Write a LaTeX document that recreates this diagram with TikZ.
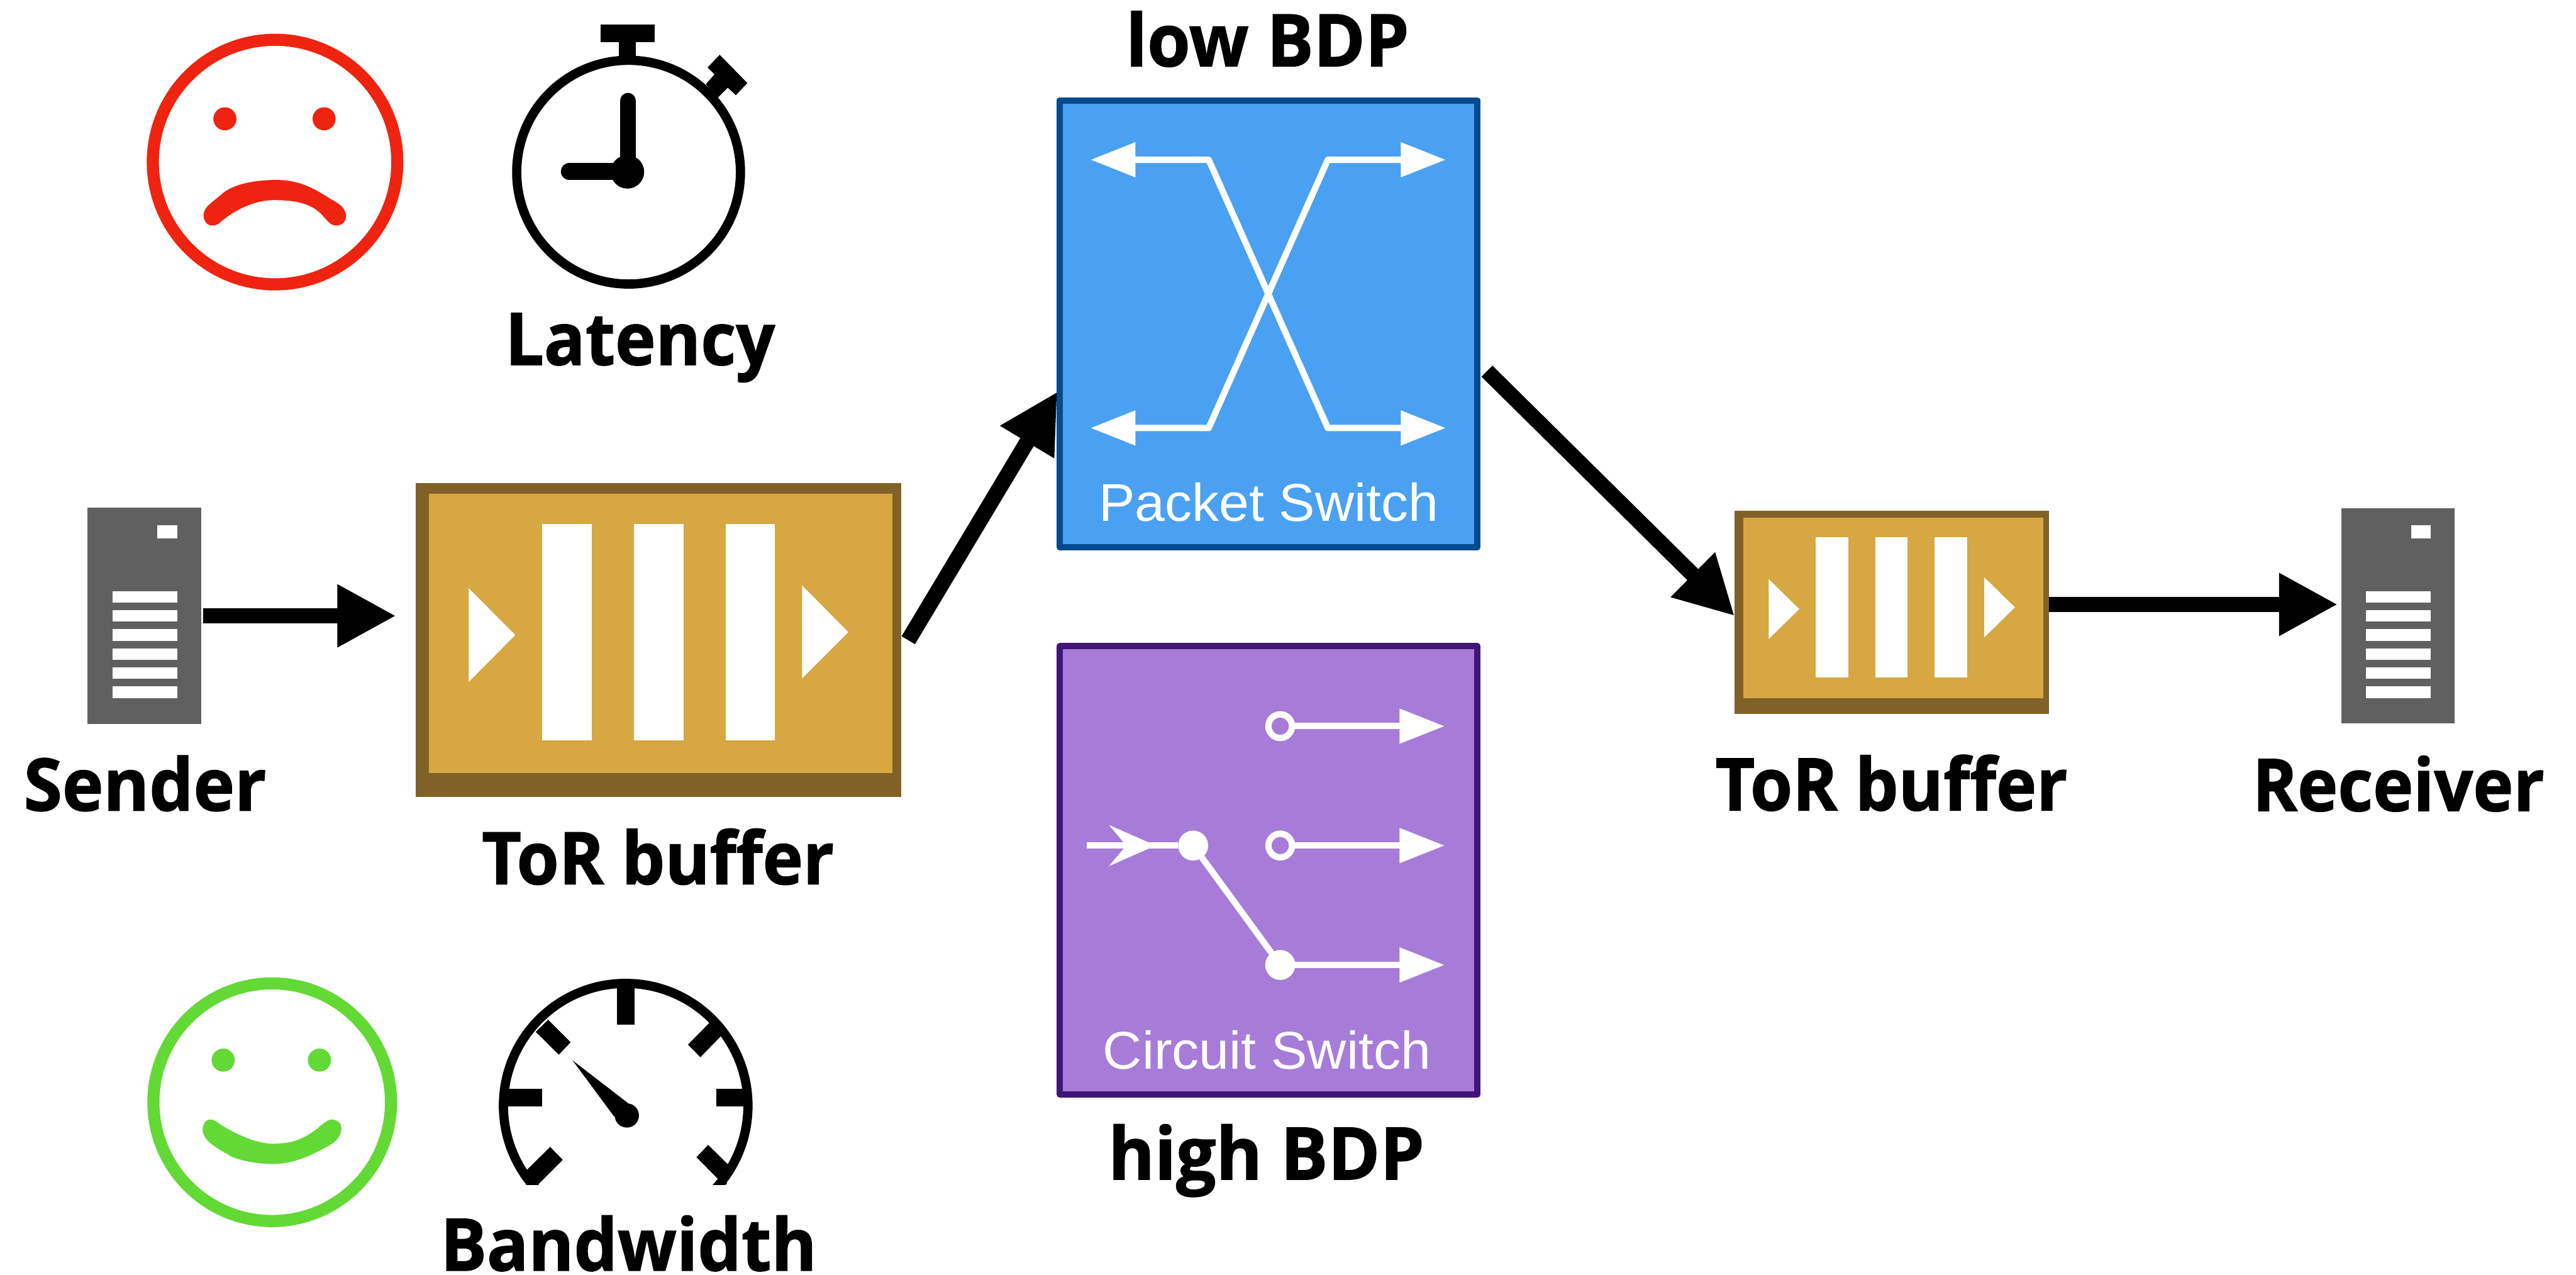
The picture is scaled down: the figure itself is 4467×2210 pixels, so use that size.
\documentclass[tikz,border=0pt]{standalone}
\usepackage{fontspec}
\usetikzlibrary{arrows.meta,calc}
\setmainfont{Liberation Sans}
\newfontfamily\headfont{Open Sans}[BoldFeatures={FakeBold=1.2}]
\definecolor{sadred}{HTML}{EF2410}
\definecolor{happygreen}{HTML}{62D935}
\definecolor{torfill}{HTML}{D7A742}
\definecolor{toredge}{HTML}{806228}
\definecolor{srvgray}{HTML}{606060}
\definecolor{pktfill}{HTML}{4AA1F1}
\definecolor{pktedge}{HTML}{034A8E}
\definecolor{cktfill}{HTML}{A77CD8}
\definecolor{cktedge}{HTML}{3F1677}
\tikzset{
  headlabel/.style={anchor=base,inner sep=0pt,outer sep=0pt,font=\headfont\bfseries\fontsize{63pt}{70pt}\selectfont},
  swlabel/.style={anchor=base,inner sep=0pt,outer sep=0pt,text=white,font=\fontsize{46pt}{50pt}\selectfont},
  solidbox/.style={rectangle,inner sep=0pt,outer sep=0pt},
  switchbox/.style={rectangle,inner sep=0pt,outer sep=0pt,line width=5.5pt,line join=round,minimum width=362pt,minimum height=390pt},
  bigarrow/.style={line width=13.5pt,-{Triangle[length=51pt,width=51pt]}},
  whitearrow/.style={draw=white,line width=5.5pt,line join=round,-{Triangle[length=39pt,width=29pt]}},
  whiteboth/.style={draw=white,line width=5.5pt,line join=round,{Triangle[length=39pt,width=29pt]}-{Triangle[length=39pt,width=29pt]}},
  ringdot/.style={circle,draw=white,line width=5.5pt,minimum size=20.5pt,inner sep=0pt,outer sep=0pt},
  soliddot/.style={circle,fill=white,minimum size=26pt,inner sep=0pt,outer sep=0pt},
}
\begin{document}
\begin{tikzpicture}[x=0.5pt,y=-0.5pt]
\useasboundingbox (0,0) rectangle (4467,2210);

% sad face
\draw[sadred,line width=10.5pt] (477,281) circle[radius=106pt];
\fill[sadred] (390,206) circle[radius=10pt] (562,206) circle[radius=10pt];
\fill[sadred] (368,391) .. controls (358,391) and (353,382) .. (353,373)
  .. controls (353,358) and (370,350) .. (384,337)
  .. controls (402,320) and (440,312) .. (479,312)
  .. controls (520,312) and (545,327) .. (575,346)
  .. controls (590,354) and (600,362) .. (600,375)
  .. controls (600,385) and (592,391) .. (583,391)
  .. controls (572,391) and (567,381) .. (556,370)
  .. controls (535,350) and (505,347) .. (475,347)
  .. controls (440,347) and (405,365) .. (380,387)
  .. controls (376,390) and (372,391) .. (368,391) -- cycle;

% stopwatch
\draw[black,line width=8pt] (1090,298.5) circle[radius=97pt];
\fill[black] (1041,42) rectangle (1135,73);
\fill[black] (1073,73) rectangle (1103,105);
\fill[black] (1248,95)--(1296,144)--(1276,165)--(1262,152)--(1245,169)--(1224,146)--(1239,129)--(1227,117)--cycle;
\draw[black,line width=14pt,line cap=round] (1089,298) -- (1089,175);
\draw[black,line width=14.5pt,line cap=round] (1089,297.5) -- (987,297.5);
\fill[black] (1088,298) circle[radius=14.5pt];
\node[headlabel] (latency) at (1110,632.6) {\scalebox{0.944}[1]{Latency}};

% happy face
\draw[happygreen,line width=10.5pt] (472,1911) circle[radius=103pt];
\fill[happygreen] (387,1838) circle[radius=10pt] (554,1838) circle[radius=10pt];
\fill[happygreen] (364.5,1941) .. controls (355,1941) and (351,1952) .. (351.5,1960)
  .. controls (353,1980) and (380,1992) .. (399,2004)
  .. controls (420,2014) and (450,2018) .. (474,2018)
  .. controls (510,2018) and (540,2003) .. (571,1986)
  .. controls (585,1978) and (592,1968) .. (592,1955)
  .. controls (592,1948) and (585,1941) .. (575,1941)
  .. controls (565,1941) and (555,1955) .. (537,1966)
  .. controls (515,1980) and (495,1983) .. (472,1983)
  .. controls (445,1983) and (405,1965) .. (380,1948)
  .. controls (375,1944) and (370,1941) .. (364.5,1941) -- cycle;

% gauge
\begin{scope}
\clip (800,1600) rectangle (1400,2054);
\draw[black,line width=8pt] (1085,1917) circle[radius=106pt];
\fill[black] (1070,1700) rectangle (1100,1777);
\fill[black] (875,1887.5) rectangle (940,1918.6);
\fill[black] (1242,1887.5) rectangle (1295,1918.6);
\fill[black] (950.6,1768)--(989.6,1807)--(969,1828.6)--(929,1789)--cycle;
\fill[black] (1230.6,1773)--(1193,1811)--(1214.5,1833)--(1250.5,1796)--cycle;
\fill[black] (954,1988.6)--(976,2011)--(933,2054)--(911.6,2054)--(913,2029)--cycle;
\fill[black] (1228,1985)--(1263.5,2020)--(1260,2054)--(1239,2054)--(1246,2045)--(1207.7,2006.4)--cycle;
\end{scope}
\fill[black] (993,1838.6)--(1089,1912.5)--(1087,1934)--(1065,1936)--cycle;
\fill[black] (1087,1934) circle[radius=10.5pt];
\node[headlabel] (bandwidth) at (1090,2203) {\scalebox{0.95}[1]{Bandwidth}};

% sender
\node[solidbox,fill=srvgray,minimum width=98.5pt,minimum height=187.25pt] (sender) at (250.5,1067.75) {};
\fill[white] (273,911) rectangle (307,934);
\foreach \y in {1025,1058,1091,1124,1157,1190} \fill[white] (195,\y) rectangle (307,\y+20);
\node[headlabel] (senderlabel) at (251.5,1405.5) {\scalebox{0.96}[1]{Sender}};

% receiver
\node[solidbox,fill=srvgray,minimum width=98.5pt,minimum height=186.75pt] (receiver) at (4158.5,1067.75) {};
\fill[white] (4181,911) rectangle (4215,934);
\foreach \y in {1025,1058,1091,1124,1157,1190} \fill[white] (4103,\y) rectangle (4215,\y+20);
\node[headlabel] (receiverlabel) at (4159,1406) {\scalebox{0.94}[1]{Receiver}};

% big ToR buffer
\node[solidbox,fill=toredge,minimum width=421pt,minimum height=272pt] (tor1) at (1142,1110) {};
\fill[torfill] (744,856) rectangle (1548,1340);
\fill[white] (940,908) rectangle (1026,1283.5);
\fill[white] (1099,908) rectangle (1185,1283.5);
\fill[white] (1258,908) rectangle (1344,1283.5);
\fill[white] (813,1020)--(893.5,1101)--(813,1182)--cycle;
\fill[white] (1391,1015)--(1471,1096)--(1391,1176)--cycle;
\node[headlabel] (torlabelA) at (1141,1533) {\scalebox{0.94}[1]{ToR buffer}};

% small ToR buffer
\node[solidbox,fill=toredge,minimum width=272.5pt,minimum height=176.5pt] (tor2) at (3280.5,1061.5) {};
\fill[torfill] (3023,898) rectangle (3543,1211);
\fill[white] (3149,931) rectangle (3205,1174);
\fill[white] (3252,931) rectangle (3308,1174);
\fill[white] (3355,931) rectangle (3411,1174);
\fill[white] (3067,1004)--(3120,1056)--(3067,1108)--cycle;
\fill[white] (3441,1001)--(3494,1053)--(3441,1105)--cycle;
\node[headlabel] (torlabelB) at (3280,1405) {\scalebox{0.94}[1]{ToR buffer}};

% packet switch
\node[switchbox,draw=pktedge,fill=pktfill,minimum height=387.5pt] (packet) at (2199.5,561.5) {};
\coordinate (pTL) at (1891,277);
\coordinate (pTR) at (2507,277);
\coordinate (pBL) at (1891,742);
\coordinate (pBR) at (2507,742);
\coordinate (pKTL) at (2096,277);
\coordinate (pKTR) at (2302.5,277);
\coordinate (pKBL) at (2096,742);
\coordinate (pKBR) at (2302.5,742);
\draw[whiteboth] (pTL) -- (pKTL) -- (pKBR) -- (pBR);
\draw[whiteboth] (pBL) -- (pKBL) -- (pKTR) -- (pTR);
\node[swlabel] (packetlabel) at (2200,904) {\scalebox{1.02}[1]{Packet Switch}};
\node[headlabel] (lowbdp) at (2198,115) {\scalebox{0.96}[1]{low BDP}};

% circuit switch
\node[switchbox,draw=cktedge,fill=cktfill,minimum height=388.5pt] (circuit) at (2200,1509) {};
\node[ringdot] (ringA) at (2220,1259) {};
\node[ringdot] (ringB) at (2220,1466) {};
\node[soliddot] (dotC) at (2220,1673) {};
\node[soliddot] (dotIn) at (2069,1466) {};
\coordinate (outA) at (2505,1259);
\coordinate (outB) at (2505,1466);
\coordinate (outC) at (2505,1673);
\coordinate (inS) at (1884,1466);
\coordinate (inT) at (2004,1466);
\draw[whitearrow] (ringA) -- (outA);
\draw[whitearrow] (ringB) -- (outB);
\draw[whitearrow] (dotC) -- (outC);
\draw[draw=white,line width=5.5pt] (inS) -- (dotIn);
\draw[draw=white,line width=5.5pt,-{Stealth[length=40pt,width=35pt,inset=14.5pt]}] (inS) -- (inT);
\draw[draw=white,line width=5.5pt] (dotIn) -- (dotC);
\node[swlabel] (circuitlabel) at (2197,1853) {\scalebox{1.02}[1]{Circuit Switch}};
\node[headlabel] (highbdp) at (2196,2045) {\scalebox{0.97}[1]{high BDP}};

% connectors
\draw[bigarrow] ($(sender.east)+(3,0)$) -- ($(sender.east -| tor1.west)+(-34,0)$);
\draw[bigarrow] ($(tor1.east)+(12,0)$) -- ($(packet.west)+(-4,117.5)$);
\draw[bigarrow] ($(packet.east)+(17,82)$) -- ($(tor2.west)+(0,6.5)$);
\draw[bigarrow] ($(tor2.east)+(0,-13.5)$) -- ($(receiver.west)+(-6,-19.75)$);
\end{tikzpicture}
\end{document}
